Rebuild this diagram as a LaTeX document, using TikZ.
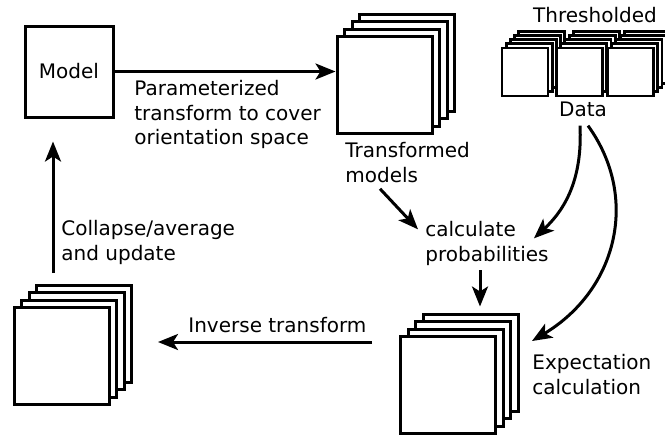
\documentclass[tikz,border=0pt]{standalone}
\usepackage{fontspec}
\setmainfont{DejaVu Sans}
\usetikzlibrary{arrows.meta, calc}
\tikzstyle{sheet} = [rectangle, minimum width=47.5pt, minimum height=48.5pt, inner sep=0pt, draw=black, line width=1.5pt, fill=white]
\tikzstyle{tile} = [rectangle, minimum width=23pt, minimum height=24pt, inner sep=0pt, draw=black, line width=1.4pt, fill=white]
\tikzstyle{txt} = [align=left, inner sep=0pt]
\tikzstyle{arrow} = [line width=1.5pt, -{Stealth[length=10pt, width=8pt, inset=2.5pt]}]

\begin{document}
\begin{tikzpicture}[x=0.5pt, y=-0.5pt, font=\fontsize{10}{12.25}\selectfont]
    \useasboundingbox (0,0) rectangle (665,436);

    % Nodes
    \node (model) [sheet, minimum width=44pt, minimum height=45.5pt] at (69,71.5) {Model};
    \foreach \i in {3,2,1,0}
        \node (tm\i) [sheet] at (384.5+7.5*\i, 85-7.5*\i) {};
    \foreach \x [count=\k] in {525,579.5,630.5}
        \foreach \i in {4,3,2,1,0}
            \node (thr\k\i) [tile] at (\x+4.2*\i, 72-4.2*\i) {};
    \foreach \i in {3,2,1,0}
        \node (es\i) [sheet] at (448+7.5*\i, 385-7.5*\i) {};
    \foreach \i in {3,2,1,0}
        \node (av\i) [sheet] at (61.5+7.5*\i, 356-7.5*\i) {};

    \node (paramtext) [txt, anchor=north west] at (134,80) {Parameterized\\transform to cover\\orientation space};
    \node (tmtext) [txt, anchor=north west] at (345,142) {Transformed\\models};
    \node (threshtext) [txt, anchor=north] at (595,7) {Thresholded};
    \node (datatext) [txt, anchor=north] at (583,102) {Data};
    \node (calc) [txt, anchor=north west] at (425,221) {calculate\\probabilities};
    \node (exptext) [txt, anchor=north west] at (532,354) {Expectation\\calculation};
    \node (invtext) [txt, anchor=north west] at (188,317) {Inverse transform};
    \node (coltext) [txt, anchor=north west] at (61,220) {Collapse/average\\and update};
    \coordinate (invstart) at (372,342);
    \coordinate (invend) at (158,342);
    \coordinate (colstart) at (53,273);
    \coordinate (calcout) at (480,270);

    % Arrows
    \draw [arrow] (model.east) -- (model.east -| tm0.west);
    \draw [arrow] ($(tmtext.south west)+(35,6)$) -- ($(calc.west)+(-7,-14)$);
    \draw [arrow] ($(datatext.south)+(-3,8)$) to[bend left=25] ($(calc.east)+(-15,-5)$);
    \draw [arrow] ($(datatext.south)+(5,8)$) .. controls +(52,72) and +(85,-51) .. ($(es3.east)+(12.5,-21.5)$);
    \draw [arrow, shorten >=3pt] (calcout) -- (calcout |- es3.north);
    \draw [arrow] (invstart) -- (invend);
    \draw [arrow, shorten >=11.5pt] (colstart) -- (colstart |- model.south);

\end{tikzpicture}
\end{document}
